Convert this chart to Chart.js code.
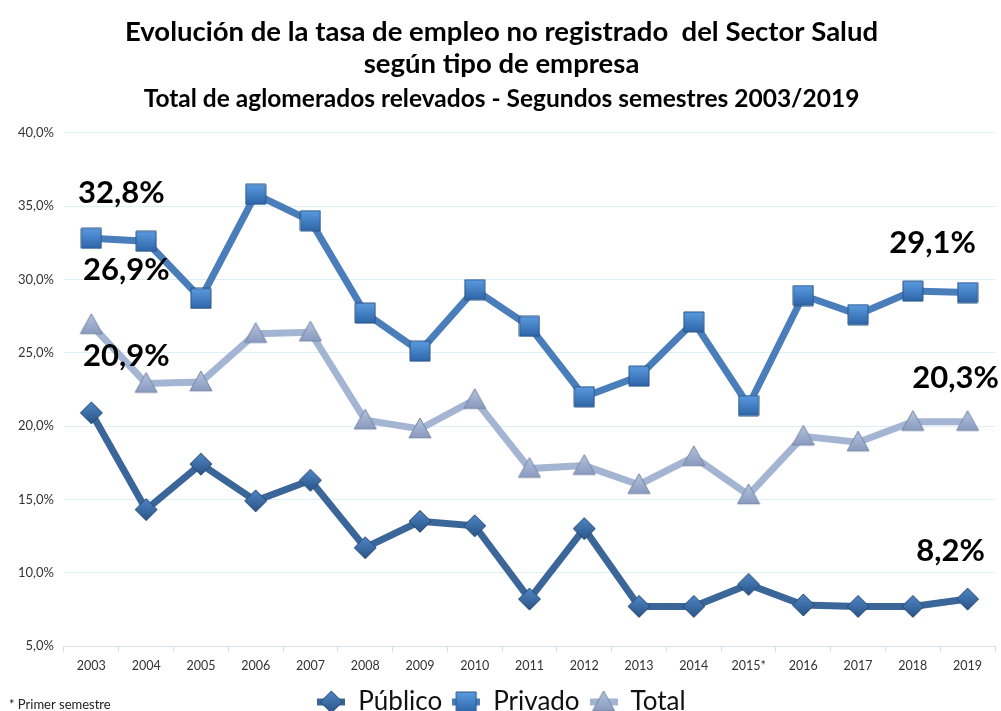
<!DOCTYPE html>
<html>
<head>
<meta charset="utf-8">
<script src="https://cdn.jsdelivr.net/npm/chart.js@4.4.1/dist/chart.umd.min.js"></script>
<style>
    body { margin: 0; background: #fff; }
    #wrap { width: 1001px; height: 711px; }
</style>
</head>
<body>
<div id="wrap"><canvas id="saludChart"></canvas></div>
<script>
// Tasa de empleo no registrado - Sector Salud
const years = ['2003', '2004', '2005', '2006', '2007', '2008', '2009', '2010', '2011',
               '2012', '2013', '2014', '2015*', '2016', '2017', '2018', '2019'];
const publico = [20.9, 14.3, 17.4, 14.9, 16.3, 11.7, 13.5, 13.2, 8.2, 13.0, 7.7, 7.7, 9.2, 7.8, 7.7, 7.7, 8.2];
const privado = [32.8, 32.6, 28.7, 35.8, 34.0, 27.7, 25.1, 29.3, 26.8, 22.0, 23.4, 27.1, 21.4, 28.9, 27.6, 29.2, 29.1];
const total = [26.9, 22.9, 23.0, 26.3, 26.4, 20.4, 19.8, 21.8, 17.1, 17.3, 16.0, 17.9, 15.3, 19.3, 18.9, 20.3, 20.3];
const yTicks = [5, 10, 15, 20, 25, 30, 35, 40];

const FONT = 'Lato, "Open Sans", sans-serif';

function fmt(v) {
    return v.toFixed(1).replace('.', ',') + '%';
}

// bevelled marker drawn once into a small canvas
function makeMarker(shape, size, light, dark, edge) {
    const c = document.createElement('canvas');
    c.width = size + 2;
    c.height = size + 2;
    const ctx = c.getContext('2d');
    const m = c.width / 2;
    const h = size / 2;
    const g = ctx.createLinearGradient(0, 1, 0, size + 1);
    g.addColorStop(0, light);
    g.addColorStop(1, dark);
    ctx.beginPath();
    if (shape === 'square') {
        ctx.rect(m - h, m - h, size, size);
    } else if (shape === 'diamond') {
        ctx.moveTo(m, m - h);
        ctx.lineTo(m + h, m);
        ctx.lineTo(m, m + h);
        ctx.lineTo(m - h, m);
        ctx.closePath();
    } else {
        ctx.moveTo(m, m - h);
        ctx.lineTo(m + h, m + h * 0.8);
        ctx.lineTo(m - h, m + h * 0.8);
        ctx.closePath();
    }
    ctx.fillStyle = g;
    ctx.fill();
    ctx.lineWidth = 1;
    ctx.strokeStyle = edge;
    ctx.stroke();
    return c;
}

// legend icon: short line with the marker in the middle
function makeLegendIcon(marker, color) {
    const c = document.createElement('canvas');
    c.width = 28;
    c.height = 24;
    const ctx = c.getContext('2d');
    ctx.strokeStyle = color;
    ctx.lineWidth = 7;
    ctx.beginPath();
    ctx.moveTo(0, 12);
    ctx.lineTo(28, 12);
    ctx.stroke();
    ctx.drawImage(marker, 14 - marker.width / 2, 12 - marker.height / 2);
    return c;
}

const colPub = '#3A6699';
const colPriv = '#4A7EBB';
const colTot = '#A4B5D4';

const mkPub = makeMarker('diamond', 22, '#4F86C6', '#2A5587', '#27496F');
const mkPriv = makeMarker('square', 20, '#5B9BE0', '#2E65A8', '#2A5486');
const mkTot = makeMarker('triangle', 22, '#B4C3DE', '#8496BB', '#7483A3');

// first / last value labels
const endLabels = {
    id: 'endLabels',
    afterDatasetsDraw(chart) {
        const ctx = chart.ctx;
        const offs = [
            { first: [35, -57], last: [-17, -48] },
            { first: [30, -45], last: [-35, -50] },
            { first: [35, -55], last: [-12, -44] }
        ];
        ctx.save();
        ctx.font = 'bold 31px ' + FONT;
        ctx.fillStyle = '#000';
        ctx.textAlign = 'center';
        ctx.textBaseline = 'middle';
        chart.data.datasets.forEach((ds, i) => {
            const meta = chart.getDatasetMeta(i);
            const n = ds.data.length - 1;
            const p0 = meta.data[0];
            const p1 = meta.data[n];
            ctx.fillText(fmt(ds.data[0]), p0.x + offs[i].first[0], p0.y + offs[i].first[1]);
            ctx.fillText(fmt(ds.data[n]), p1.x + offs[i].last[0], p1.y + offs[i].last[1]);
        });
        ctx.restore();
    }
};

const footnote = {
    id: 'footnote',
    afterDraw(chart) {
        const ctx = chart.ctx;
        ctx.save();
        ctx.font = '13px ' + FONT;
        ctx.fillStyle = '#222';
        ctx.textBaseline = 'middle';
        ctx.fillText('* Primer semestre', 9, 705);
        ctx.restore();
    }
};

function lineSet(label, data, color, marker) {
    return {
        label: label,
        data: data,
        borderColor: color,
        backgroundColor: color,
        borderWidth: 7,
        tension: 0,
        pointStyle: marker,
        pointRadius: 11,
        pointHoverRadius: 11
    };
}

new Chart(document.getElementById('saludChart'), {
    type: 'line',
    data: {
        labels: years,
        datasets: [
            lineSet('Público', publico, colPub, mkPub),
            lineSet('Privado', privado, colPriv, mkPriv),
            lineSet('Total', total, colTot, mkTot)
        ]
    },
    plugins: [endLabels, footnote],
    options: {
        responsive: true,
        maintainAspectRatio: false,
        animation: false,
        layout: { autoPadding: false, padding: { left: 8, right: 6, top: 2, bottom: -14 } },
        scales: {
            x: {
                offset: true,
                afterFit(scale) {
                    // labels sit between ticks, no need for side room
                    scale.paddingLeft = 0;
                    scale.paddingRight = 0;
                },
                grid: {
                    offset: true,
                    drawOnChartArea: false,
                    color: '#D5E0EA',
                    tickLength: 6
                },
                border: { color: '#D5E0EA' },
                ticks: {
                    color: '#333',
                    padding: 6,
                    font: { family: FONT, size: 12.5 },
                    maxRotation: 0,
                    autoSkip: false
                }
            },
            y: {
                min: 5,
                max: 40,
                afterBuildTicks(axis) {
                    axis.ticks = yTicks.map(v => ({ value: v }));
                },
                grid: { color: '#DDEFF5', drawTicks: false },
                border: { display: false },
                ticks: {
                    color: '#333',
                    padding: 10,
                    font: { family: FONT, size: 13 },
                    callback: v => fmt(v)
                }
            }
        },
        plugins: {
            title: {
                display: true,
                text: ['Evolución de la tasa de empleo no registrado  del Sector Salud', 'según tipo de empresa'],
                color: '#000',
                font: { family: FONT, size: 27.5, weight: 'bold', lineHeight: 1.17 },
                padding: { top: 14, bottom: 2 }
            },
            subtitle: {
                display: true,
                text: 'Total de aglomerados relevados - Segundos semestres 2003/2019',
                color: '#000',
                font: { family: FONT, size: 24.5, weight: 'bold', lineHeight: 1.2 },
                padding: { top: 2, bottom: 19 }
            },
            legend: {
                position: 'bottom',
                labels: {
                    usePointStyle: true,
                    pointStyleWidth: 28,
                    color: '#111',
                    padding: 10,
                    font: { family: FONT, size: 26 },
                    generateLabels(chart) {
                        const icons = [makeLegendIcon(mkPub, colPub), makeLegendIcon(mkPriv, colPriv), makeLegendIcon(mkTot, colTot)];
                        return chart.data.datasets.map((ds, i) => ({
                            text: ds.label,
                            pointStyle: icons[i],
                            fillStyle: ds.borderColor,
                            strokeStyle: ds.borderColor,
                            lineWidth: 0,
                            fontColor: '#111',
                            hidden: false,
                            datasetIndex: i
                        }));
                    }
                }
            },
            tooltip: { enabled: false }
        }
    }
});
</script>
</body>
</html>
